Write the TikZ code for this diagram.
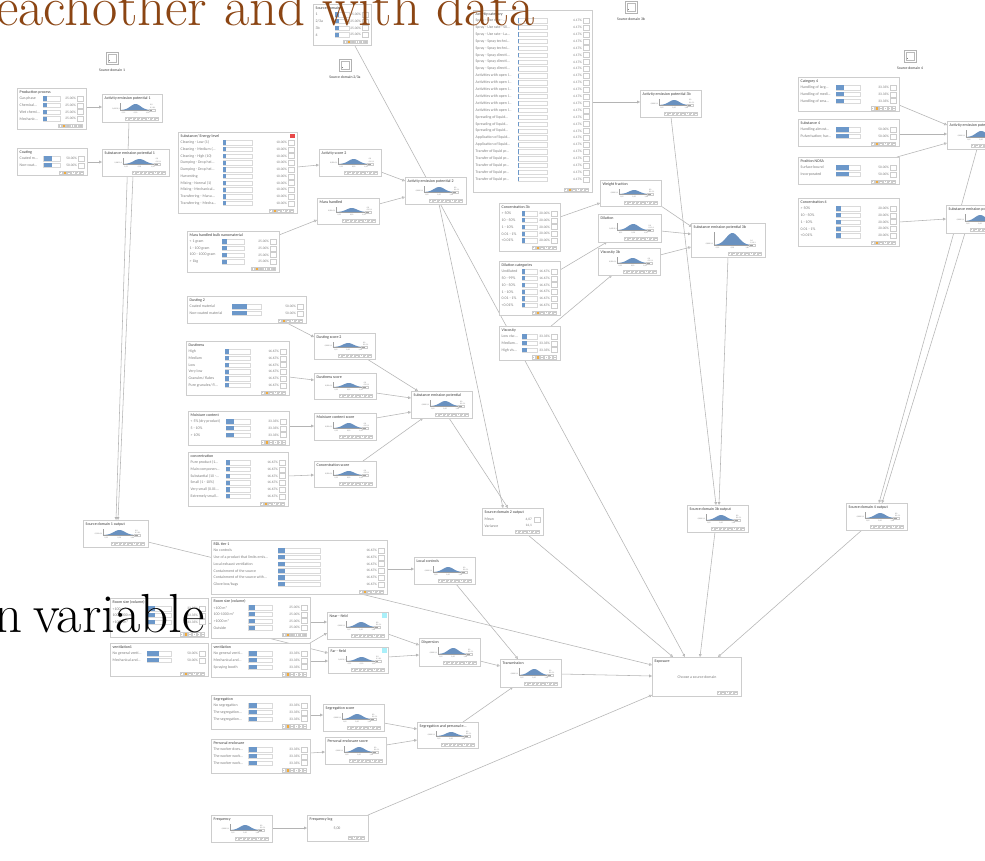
\documentclass[tikz,border=0pt]{standalone}
\usepackage{fontspec}
\newfontfamily\uifont{Carlito}
\usetikzlibrary{arrows.meta,calc}
\pgfdeclarelayer{bg}
\pgfdeclarelayer{edges}
\pgfsetlayers{bg,edges,main}
\definecolor{bord}{RGB}{205,205,205}
\definecolor{barfr}{RGB}{218,218,218}
\definecolor{barbl}{RGB}{108,152,202}
\definecolor{crv}{RGB}{105,145,192}
\definecolor{ttlc}{RGB}{60,60,60}
\definecolor{lblc}{RGB}{125,125,125}
\definecolor{edgec}{RGB}{180,180,180}
\definecolor{axisc}{RGB}{160,160,160}
\definecolor{brownt}{RGB}{139,69,19}
\definecolor{orng}{RGB}{240,170,60}
\definecolor{cyanb}{RGB}{170,240,250}
\definecolor{redb}{RGB}{232,72,72}
\def\el{.{}.{}.}
\tikzset{
  x=1pt,y=-1pt,
  nbox/.style={draw=bord, line width=0.6pt, fill=white, inner sep=0pt, outer sep=0pt, anchor=north west},
  ttltxt/.style={font=\uifont\fontsize{4}{4.5}\selectfont, text=ttlc, inner sep=0pt, anchor=base west},
  lbltxt/.style={font=\uifont\fontsize{3.9}{4.5}\selectfont, text=lblc, inner sep=0pt},
  pcttxt/.style={font=\uifont\fontsize{3.5}{4}\selectfont, text=lblc, inner sep=0pt, anchor=east},
  tinytxt/.style={font=\uifont\fontsize{1.9}{2.2}\selectfont, text=lblc, inner sep=0pt},
  conn/.style={draw=edgec, line width=0.55pt, -{Triangle[open,length=2.8pt,width=2.8pt]}},
  tbicon/.style={draw=bord, line width=0.35pt, fill=white},
  chk/.style={draw=bord, line width=0.4pt, fill=white},
  bigtxt/.style={font=\fontsize{55}{60}\selectfont, inner sep=0pt},
}
\newcommand\RowSp{6.75}
\newcommand\ExtraH{0}
\newcommand\ToolBar[4]{%
  \foreach \ti in {1,...,#3}{%
    \pgfmathsetmacro\tbx{#1-(#3-\ti+1)*4.3}%
    \ifnum\ti=#4
      \draw[tbicon, fill=orng] (\tbx,#2-1.6) rectangle ++(3.3,3.2);
    \else
      \draw[tbicon] (\tbx,#2-1.6) rectangle ++(3.3,3.2);
      \fill[gray!45] (\tbx+1,#2-0.5) rectangle ++(1.3,1.1);
    \fi
  }%
}
\newcommand\TabNode[9]{% name, x, y, w, n, title, pct, frac, labels
  \pgfmathsetmacro\tnH{21+(#5-1)*\RowSp+\ExtraH}%
  \pgfmathsetmacro\tnBO{0.38*#4}%
  \pgfmathsetmacro\tnBW{0.24*#4}%
  \node[nbox, minimum width=#4*1pt, minimum height=\tnH*1pt] (#1) at (#2,#3) {};
  \node[ttltxt] at (#2+2.5,#3+5.3) {#6};
  \foreach \lab [count=\ri from 0] in {#9}{%
    \pgfmathsetmacro\ry{#3+10.5+\ri*\RowSp}%
    \node[lbltxt, anchor=west] at (#2+2.5,\ry) {\lab};
    \draw[draw=barfr, line width=0.4pt, fill=white] (#2+\tnBO,\ry-2.2) rectangle ++(\tnBW,4.4);
    \fill[barbl] (#2+\tnBO,\ry-2.2) rectangle ++(\tnBW*#8,4.4);
    \node[pcttxt] at (#2+#4-10,\ry) {#7};
    \draw[chk] (#2+#4-8.5,\ry-2.5) rectangle ++(5.5,5);
  }%
  \ToolBar{#2+#4-2.5}{#3+\tnH-3.3}{6}{2}%
}
\newcommand\DistNode[6]{% name, x, y, w, h, title
  \node[nbox, minimum width=#4*1pt, minimum height=#5*1pt] (#1) at (#2,#3) {};
  \node[ttltxt] at (#2+2.5,#3+5.3) {#6};
  \pgfmathsetmacro\dnB{#3+#5-12}%
  \pgfmathsetmacro\dnP{#5-22}%
  \pgfmathsetmacro\dnC{#2+0.56*#4}%
  \pgfmathsetmacro\dnS{0.085*#4}%
  \pgfmathsetmacro\dnA{\dnC-3*\dnS}%
  \pgfmathsetmacro\dnZ{\dnC+3*\dnS}%
  \pgfmathsetmacro\dnL{#2+0.31*#4}%
  \pgfmathsetmacro\dnR{#2+0.84*#4}%
  \fill[crv] plot[domain=\dnA:\dnZ, samples=31, smooth] (\x,{\dnB-\dnP*exp(-((\x-\dnC)^2)/(2*\dnS*\dnS))}) -- cycle;
  \draw[axisc, line width=0.3pt] (\dnL,\dnB-\dnP-1) -- (\dnL,\dnB) -- (\dnR,\dnB);
  \node[tinytxt, anchor=east] at (\dnL-0.8,\dnB-1.2) {0,000 0,1};
  \node[tinytxt] at (#2+0.36*#4,\dnB+2.8) {0,25};
  \node[tinytxt] at (\dnC,\dnB+2.8) {0,50};
  \node[tinytxt] at (#2+0.76*#4,\dnB+2.8) {1,00};
  \node[tinytxt, anchor=west] at (#2+0.8*#4,\dnB-4.5) {0,0};
  \node[tinytxt, anchor=west] at (#2+0.8*#4,\dnB-2.3) {0,1 0,1};
  \draw[bord, line width=0.2pt] (#2+0.78*#4,\dnB-0.8) rectangle ++(6,2.2);
  \ToolBar{#2+#4-2.5}{#3+#5-3.5}{8}{0}%
}
\newcommand\IconNode[4]{% name, x, y, label
  \node[nbox, draw=gray!60, minimum width=12pt, minimum height=12pt] (#1) at (#2,#3) {};
  \draw[gray!55, line width=0.4pt] (#2+1.8,#3+1.8) rectangle (#2+10.2,#3+10.2);
  \fill[gray] (#2+3,#3+7.5) rectangle ++(1,1);
  \node[font=\uifont\fontsize{3.8}{4}\selectfont, text=ttlc, inner sep=0pt] at (#2+6,#3+18) {#4};
}
\newcommand\Edge[6]{\draw[conn] ($(#1.north west)+(#2,#3)$) -- ($(#4.north west)+(#5,#6)$);}
\begin{document}
\begin{tikzpicture}
\begin{pgfonlayer}{bg}
\fill[white] (0,0) rectangle (985,860);
\end{pgfonlayer}
\useasboundingbox (0,0) rectangle (985,860);

% ---------------- icons
\IconNode{ic1}{106}{52}{Source domain 1}
\IconNode{ic2}{339}{59}{Source domain 2/3a}
\IconNode{ic3}{625}{1}{Source domain 3b}
\IconNode{ic4}{904}{50}{Source domain 4}

% ---------------- table nodes
\TabNode{prod}{17}{88}{69}{4}{Production process}{25.00\%}{0.25}{Gas phase,Chemical\el,Wet chemi\el,Mechanic\el}
\TabNode{coat}{17}{148}{70}{2}{Coating}{50.00\%}{0.5}{Coated m\el,Non-coat\el}
\TabNode{subst}{178}{132}{119}{10}{Substance/ Energy level}{10.00\%}{0.1}{Cleaning - Low (1),Cleaning - Medium (\el,Cleaning - High (10),Dumping - Drop hei\el,Dumping - Drop hei\el,Harvesting,Mixing - Normal (1),Mixing - Mechanical\el,Transferring - Manu\el,Transferring - Mecha\el}
\fill[redb] (290,133.5) rectangle ++(4.5,4.5);
\TabNode{massbulk}{187}{231}{92}{4}{Mass handled bulk nanomaterial}{25.00\%}{0.25}{< 1 gram,1 - 100 gram,100 - 1000 gram,> 1kg}
\TabNode{dust2}{187}{296}{119}{2}{Dusting 2}{50.00\%}{0.5}{Coated material,Non-coated material}
\TabNode{dustiness}{186}{341}{103}{6}{Dustiness}{16.67\%}{0.1667}{High,Medium,Low,Very low,Granules/ flakes,Pure granules/ fl\el}
\TabNode{moist}{188}{411}{101}{3}{Moisture content}{33.33\%}{0.3333}{< 5\% (dry product),5 - 10\%,> 10\%}
\TabNode{conc}{188}{452}{100}{6}{concentration}{16.67\%}{0.1667}{Pure product (1\el,Main componen\el,Substantial (10 -\el,Small (1 - 10\%),Very small (0.01\el,Extremely small\el}
\TabNode{srcdom}{313}{4}{58}{4}{Source domain}{25.00\%}{0.25}{1,2/3a,3b,4}
\renewcommand\RowSp{6.9}\renewcommand\ExtraH{3}
\TabNode{actcat}{473}{10}{119}{24}{Activity category}{4.17\%}{0.0417}{Spray - Use rate - \el,Spray - Use rate - Sli\el,Spray - Use rate - La\el,Spray - Spray techni\el,Spray - Spray techni\el,Spray - Spray directi\el,Spray - Spray directi\el,Spray - Spray directi\el,Activities with open l\el,Activities with open l\el,Activities with open l\el,Activities with open l\el,Activities with open l\el,Activities with open l\el,Spreading of liquid\el,Spreading of liquid\el,Spreading of liquid\el,Application of liquid\el,Application of liquid\el,Transfer of liquid pr\el,Transfer of liquid pr\el,Transfer of liquid pr\el,Transfer of liquid pr\el,Transfer of liquid pr\el}
\renewcommand\RowSp{6.75}\renewcommand\ExtraH{0}
\TabNode{conc3b}{499}{203}{61}{5}{Concentration 3b}{20.00\%}{0.2}{> 50\%,10 - 50\%,1 - 10\%,0.01 - 1\%,<0.01\%}
\TabNode{dilcat}{499}{261}{61}{6}{Dilution categories}{16.67\%}{0.1667}{Undiluted,50 - 99\%,10 - 50\%,1 - 10\%,0.01 - 1\%,<0.01\%}
\TabNode{visc}{499}{326}{61}{3}{Viscosity}{33.33\%}{0.3333}{Low visc\el,Medium\el,High vis\el}
\TabNode{cat4}{798}{77}{101}{3}{Category 4}{33.33\%}{0.3333}{Handling of larg\el,Handling of medi\el,Handling of sma\el}
\TabNode{subst4}{798}{119}{101}{2}{Substance 4}{50.00\%}{0.5}{Handling almost\el,Pulverisation; har\el}
\TabNode{pos}{798}{157}{101}{2}{Position NOSA}{50.00\%}{0.5}{Surface bound,Incorporated}
\TabNode{conc4}{798}{198}{101}{5}{Concentration 4}{20.00\%}{0.2}{> 50\%,10 - 50\%,1 - 10\%,0.01 - 1\%,<0.01\%}
\TabNode{rdl}{211}{540}{176}{6}{RDL tier 1}{16.67\%}{0.1667}{No controls,Use of a product that limits emis\el,Local exhaust ventilation,Containment of the source,Containment of the source with\el,Glove box/bags}
\renewcommand\ExtraH{5}
\TabNode{roomL}{110}{598}{98}{3}{Room size (volume)}{33.33\%}{0.3333}{<100 m³,100-1000 m³,>1000 m³}
\renewcommand\ExtraH{0}
\TabNode{roomR}{211}{597}{99}{4}{Room size (volume)}{25.00\%}{0.25}{<100 m³,100-1000 m³,>1000 m³,Outside}
\renewcommand\ExtraH{6}
\TabNode{vent1}{110}{643}{98}{2}{ventilation1}{50.00\%}{0.5}{No general venti\el,Mechanical and\el}
\renewcommand\ExtraH{0}
\TabNode{vent}{211}{643}{99}{3}{ventilation}{33.33\%}{0.3333}{No general venti\el,Mechanical and\el,Spraying booth}
\TabNode{seg}{211}{695}{99}{3}{Segregation}{33.33\%}{0.3333}{No segregation,The segregation\el,The segregation\el}
\TabNode{pers}{211}{739}{99}{3}{Personal enclosure}{33.33\%}{0.3333}{The worker does\el,The worker work\el,The worker work\el}

% ---------------- distribution nodes
\DistNode{aep1}{102}{94}{60}{28}{Activity emission potential 1}
\DistNode{sep1}{102}{149}{67}{27}{Substance emission potential 1}
\DistNode{actsc2}{319}{149}{62}{27}{Activity score 2}
\DistNode{mass}{317}{198}{62}{26}{Mass handled}
\DistNode{aep2}{405}{177}{61}{27}{Activity emission potential 2}
\DistNode{dustsc2}{314}{333}{61}{26}{Dusting score 2}
\DistNode{dustsc}{314}{373}{62}{26}{Dustiness score}
\DistNode{sep}{411}{391}{61}{27}{Substance emission potential}
\DistNode{moistsc}{314}{413}{62}{27}{Moisture content score}
\DistNode{concsc}{314}{461}{62}{26}{Concentration score}
\DistNode{aep3b}{640}{90}{61}{27}{Activity emission potential 3b}
\DistNode{wf}{600}{180}{61}{26}{Weight fraction}
\DistNode{dil}{598}{214}{63}{28}{Dilution}
\DistNode{visc3b}{598}{248}{62}{27}{Viscosity 3b}
\DistNode{sep3b}{691}{223}{74}{34}{Substance emission potential 3b}
\DistNode{aep4}{947}{121}{61}{28}{Activity emission potential 4}
\DistNode{sep4}{946}{205}{61}{28}{Substance emission potential 4}
\DistNode{sd1out}{83}{520}{65}{27}{Source domain 1 output}
\DistNode{local}{414}{557}{61}{27}{Local controls}
\DistNode{near}{327}{612}{61}{27}{Near - field}
\fill[cyanb] (382,613) rectangle ++(5,5);
\DistNode{far}{328}{647}{60}{26}{Far - field}
\fill[cyanb] (382,648) rectangle ++(5,5);
\DistNode{disp}{419}{638}{61}{28}{Dispersion}
\DistNode{trans}{500}{659}{61}{28}{Transmission}
\DistNode{sd3bout}{687}{505}{61}{27}{Source domain 3b output}
\DistNode{sd4out}{846}{503}{61}{27}{Source domain 4 output}
\DistNode{segsc}{323}{704}{61}{27}{Segregation score}
\DistNode{perssc}{325}{737}{61}{27}{Personal enclosure score}
\DistNode{segpers}{417}{722}{61}{26}{Segregation and personal e\el}
\DistNode{freq}{211}{815}{61}{27}{Frequency}

% ---------------- special nodes
\node[nbox, minimum width=61pt, minimum height=27pt] (sd2out) at (482,508) {};
\node[ttltxt] at (484.5,513.3) {Source domain 2 output};
\node[lbltxt, anchor=west] at (484.5,519.5) {Mean};
\node[pcttxt] at (532,519.5) {4,07};
\draw[chk] (534,517) rectangle ++(6,5);
\node[lbltxt, anchor=west] at (484.5,526) {Variance};
\node[pcttxt] at (532,526) {14,1};
\ToolBar{540.5}{531.5}{6}{0}

\node[nbox, minimum width=89pt, minimum height=39pt] (expo) at (652,657) {};
\node[ttltxt] at (654.5,662.5) {Exposure};
\node[lbltxt] at (697,677) {Choose a source domain};
\ToolBar{738.5}{692.3}{5}{0}

\node[nbox, minimum width=61pt, minimum height=26pt] (freqlog) at (307,815) {};
\node[ttltxt] at (309.5,820.3) {Frequency log};
\node[lbltxt] at (337,828) {5,00};
\ToolBar{365.5}{837.5}{4}{0}

% ---------------- connectors
\begin{pgfonlayer}{edges}
\Edge{prod}{69}{19}{aep1}{0}{13}
\Edge{aep1}{27}{28}{sd1out}{33}{0}
\Edge{sep1}{31}{27}{sd1out}{35}{0}
\Edge{coat}{70}{14}{sep1}{0}{13}
\Edge{subst}{119}{35}{actsc2}{0}{16}
\Edge{actsc2}{62}{23}{aep2}{0}{4}
\Edge{massbulk}{92}{4}{mass}{0}{22}
\Edge{mass}{62}{6}{aep2}{0}{20}
\Edge{srcdom}{42}{42}{expo}{33}{0}
\Edge{aep2}{34}{27}{sd2out}{21}{0}
\Edge{sep}{38}{27}{sd2out}{26}{0}
\Edge{dust2}{100}{27}{dustsc2}{0}{4}
\Edge{dustiness}{103}{36}{dustsc}{0}{7}
\Edge{moist}{101}{15}{moistsc}{0}{13}
\Edge{conc}{100}{24}{concsc}{0}{14}
\Edge{dustsc2}{53}{26}{sep}{7}{0}
\Edge{dustsc}{62}{20}{sep}{0}{7}
\Edge{moistsc}{62}{5}{sep}{0}{21}
\Edge{concsc}{49}{0}{sep}{12}{27}
\Edge{actcat}{119}{92}{aep3b}{0}{12}
\Edge{aep3b}{31}{27}{sd3bout}{29}{0}
\Edge{sep3b}{37}{34}{sd3bout}{32}{0}
\Edge{conc3b}{61}{14}{wf}{0}{23}
\Edge{wf}{61}{26}{sep3b}{1}{4}
\Edge{dil}{63}{17}{sep3b}{0}{11}
\Edge{visc3b}{62}{7}{sep3b}{0}{24}
\Edge{dilcat}{61}{9}{dil}{9}{28}
\Edge{visc}{51}{1}{visc3b}{14}{27}
\Edge{cat4}{101}{28}{aep4}{0}{4}
\Edge{subst4}{101}{15}{aep4}{0}{13}
\Edge{pos}{99}{0}{aep4}{0}{22}
\Edge{conc4}{101}{24}{sep4}{0}{14}
\Edge{aep4}{30}{28}{sd4out}{33}{0}
\Edge{sep4}{19}{28}{sd4out}{36}{0}
\Edge{sd1out}{65}{22}{expo}{0}{8}
\Edge{rdl}{176}{29}{local}{0}{12}
\Edge{local}{42}{27}{trans}{18}{0}
\Edge{roomR}{99}{25}{near}{0}{10}
\Edge{vent}{99}{0}{near}{0}{21}
\Edge{roomL}{98}{25}{far}{0}{6}
\Edge{vent}{99}{18}{far}{0}{14}
\Edge{near}{61}{22}{disp}{0}{7}
\Edge{far}{60}{10}{disp}{0}{17}
\Edge{disp}{61}{23}{trans}{0}{7}
\Edge{trans}{61}{15}{expo}{0}{19}
\Edge{sd2out}{46}{27}{expo}{21}{0}
\Edge{sd3bout}{28}{27}{expo}{48}{0}
\Edge{sd4out}{16}{27}{expo}{66}{0}
\Edge{seg}{99}{20}{segsc}{0}{11}
\Edge{pers}{99}{14}{perssc}{0}{15}
\Edge{segsc}{61}{19}{segpers}{0}{7}
\Edge{perssc}{61}{8}{segpers}{0}{18}
\Edge{segpers}{46}{0}{trans}{13}{28}
\Edge{freq}{61}{13}{freqlog}{0}{13}
\Edge{freqlog}{61}{0}{expo}{0}{38}
\end{pgfonlayer}

% ---------------- overlay slide text
\node[bigtxt, text=brownt, anchor=base west] (ov1) at (-4,25) {eachother and with data};
\node[bigtxt, text=black, anchor=base east] (ov2) at (205,632) {n\hspace{10pt}variable};
\end{tikzpicture}
\end{document}
